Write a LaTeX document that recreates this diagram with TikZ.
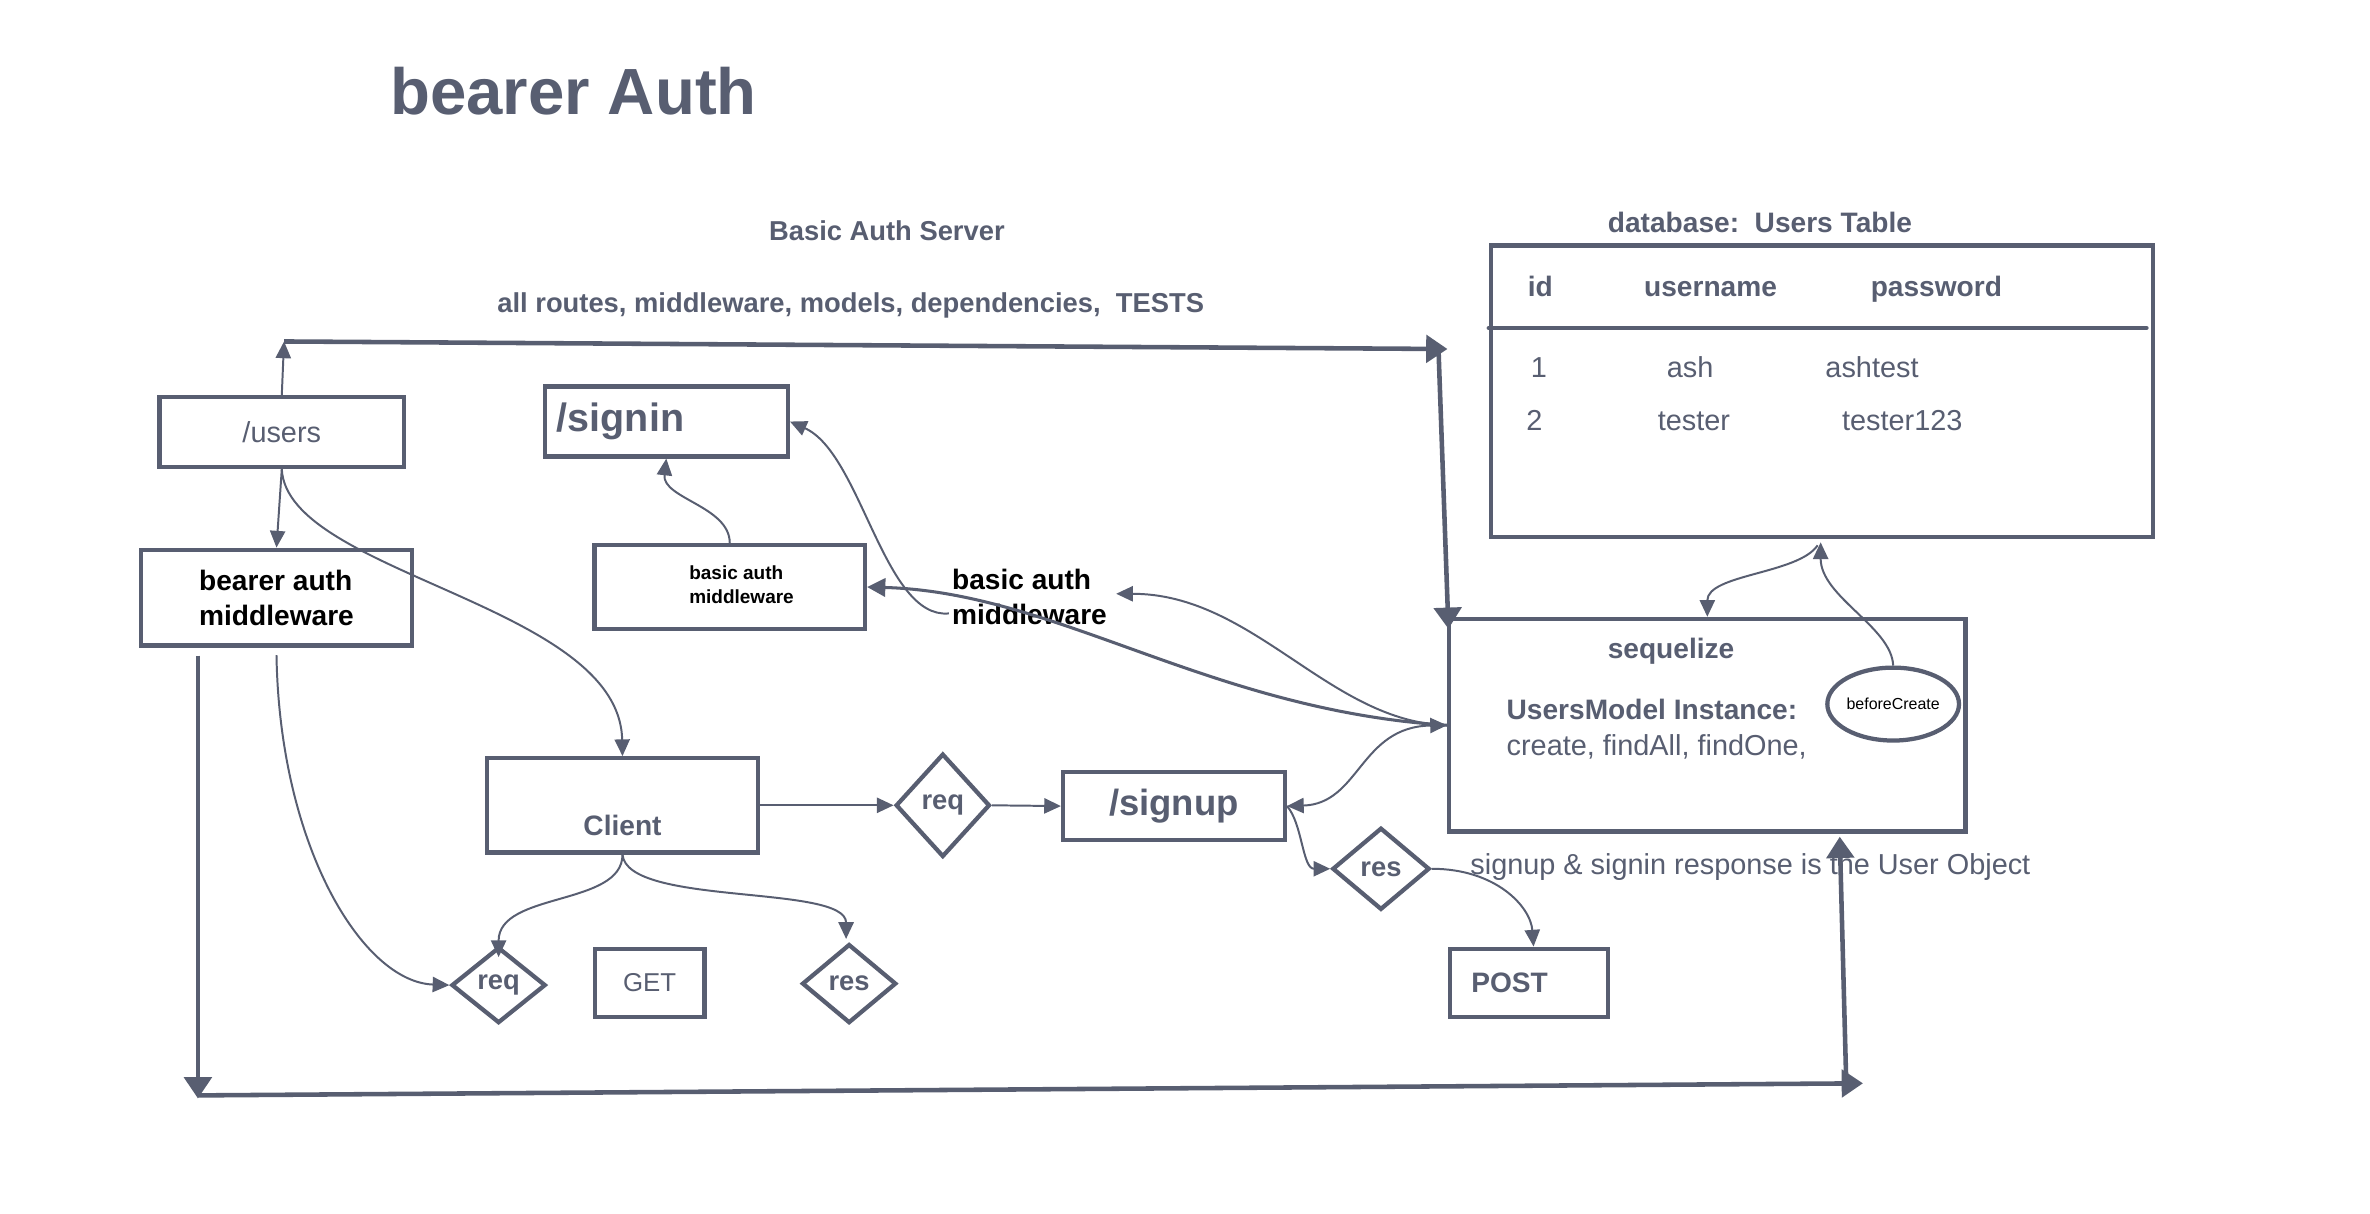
\documentclass[tikz,border=0pt]{standalone}
\usepackage{fontspec}
\setmainfont{Liberation Sans}
\usetikzlibrary{arrows.meta,shapes.geometric,calc}
\definecolor{ink}{RGB}{88,94,113}
\newcommand{\fsz}[2]{\fontsize{#1}{#2}\selectfont}
\begin{document}
\begin{tikzpicture}[x=0.9945pt,y=-0.9945pt,
  box/.style={draw=ink, line width=2.8pt, inner sep=0pt, rectangle},
  dia/.style={draw=ink, line width=2.8pt, diamond, inner sep=0pt, text=ink, font={\fsz{18}{22}\bfseries}},
  thinarrow/.style={draw=ink, line width=1.3pt, -{Triangle[width=10pt,length=11pt]}},
  midarrow/.style={draw=ink, line width=2pt, -{Triangle[width=12pt,length=12pt]}},
  thickarrow/.style={draw=ink, line width=3pt, -{Triangle[width=18pt,length=14pt]}},
  lbl/.style={text=ink, inner sep=0pt, font={\fsz{19}{22}}},
  blbl/.style={text=ink, inner sep=0pt, font={\fsz{18.5}{22}\bfseries}}]
\fill[white] (0,0) rectangle (1568.6,803.4);
\useasboundingbox (0,0) rectangle (1568.6,803.4);

% titles
\node[text=ink, inner sep=0pt, font={\fsz{43}{50}\bfseries}, anchor=base west] (title) at (258,76) {bearer Auth};
\node[blbl, anchor=base, font={\fsz{18}{22}\bfseries}] (server) at (587,159) {Basic Auth Server};
\node[blbl, anchor=base west, font={\fsz{18}{22}\bfseries}] (routes) at (329,207) {all routes, middleware, models, dependencies,\ \ TESTS};

% boxes
\node[box, minimum width=161pt, minimum height=46pt, text=ink, font={\fsz{19}{23}}] (users) at (186.5,286) {/users};
\node[box, minimum width=178pt, minimum height=63pt, align=left, font={\fsz{18.5}{23}\bfseries}, text=black] (bearer) at (183,395.5) {bearer auth\\middleware};
\node[box, minimum width=160pt, minimum height=46pt, text width=144pt, align=left, font={\fsz{26}{30}\bfseries}, text=ink] (signin) at (441,279) {/signin};
\node[box, minimum width=178pt, minimum height=55pt] (mwbox) at (483,388.5) {};
\node[inner sep=0pt, align=left, anchor=west, font={\fsz{12.5}{16}\bfseries}, text=black] (mwtext) at (456,387) {basic auth\\middleware};
\node[inner sep=0pt, align=left, anchor=west, font={\fsz{18.5}{23}\bfseries}, text=black] (mwlabel) at (630,395) {basic auth\\middleware};

\node[box, minimum width=178pt, minimum height=62pt] (client) at (412,533) {};
\node[blbl] (clienttxt) at (412,546) {Client};
\node[dia, minimum width=62pt, minimum height=68pt] (req1) at (624,533) {req};
\node[box, minimum width=146pt, minimum height=45pt, font={\fsz{24}{28}\bfseries}, text=ink] (signup) at (777,533.5) {/signup};
\node[dia, minimum width=64pt, minimum height=54pt] (res1) at (914,575) {res};
\node[box, minimum width=104pt, minimum height=45pt, text width=76pt, align=left, font={\fsz{18.5}{22}\bfseries}, text=ink] (post) at (1012,650.5) {POST};
\node[box, minimum width=72pt, minimum height=45pt, font={\fsz{17}{20}}, text=ink] (get) at (430,650.5) {GET};
\node[dia, minimum width=62pt, minimum height=50pt] (req2) at (330,652) {req};
\node[dia, minimum width=62pt, minimum height=52pt] (res2) at (562,651) {res};
\node[lbl, anchor=base west] (resptext) at (973,579) {signup \& signin response is the User Object};

% sequelize
\node[box, minimum width=340pt, minimum height=140pt] (seq) at (1130,480) {};
\node[blbl] (seqtitle) at (1106,431) {sequelize};
\node[blbl, anchor=base west] (umi) at (997,476) {UsersModel Instance:};
\node[lbl, anchor=base west] (methods) at (997,500) {create, findAll, findOne,};
\node[draw=ink, line width=2.8pt, ellipse, minimum width=74pt, minimum height=48pt, inner sep=0pt, fill=white, font={\fsz{10.5}{12}}, text=black] (bc) at (1253,466) {beforeCreate};

% table
\node[blbl, anchor=base west] (dbtitle) at (1064,154) {database:\ \ Users Table};
\node[box, minimum width=436pt, minimum height=192pt] (tbl) at (1206,259) {};
\draw[ink, line width=3pt, line cap=round] ($(tbl.north west)+(0,56)$) -- ($(tbl.north east)+(-6,56)$);
\node[blbl, anchor=base west] (hid) at (1011,196) {id};
\node[blbl, anchor=base west] (huser) at (1088,196) {username};
\node[blbl, anchor=base west] (hpass) at (1238,196) {password};
\node[lbl, anchor=base west] (r1id) at (1013,250) {1};
\node[lbl, anchor=base west] (r1u) at (1103,250) {ash};
\node[lbl, anchor=base west] (r1p) at (1208,250) {ashtest};
\node[lbl, anchor=base west] (r2id) at (1010,285) {2};
\node[lbl, anchor=base west] (r2u) at (1097,285) {tester};
\node[lbl, anchor=base west] (r2p) at (1219,285) {tester123};

% long thick lines
\coordinate (tl) at (188,226);
\coordinate (tr) at (958,231);
\coordinate (trd) at (952,229);
\coordinate (bl0) at (131,434);
\coordinate (bl) at (131,727);
\coordinate (blr) at (131,725);
\coordinate (br) at (1233,717);
\coordinate (bru) at (1222,719);
\draw[thinarrow] (users.north) -- (tl);
\draw[thickarrow] (tl) -- (tr);
\draw[thickarrow] (trd) -- ($(seq.north west)+(1,8)$);
\draw[thickarrow] (bl0) -- (bl);
\draw[thickarrow] (blr) -- (br);
\draw[thickarrow] (bru) -- ($(seq.south west)+(260,2)$);

% connectors
\draw[thinarrow] (users.south) -- (bearer.north);
\draw[thinarrow] (users.south) .. controls (190,380) and (410,400) .. (client.north);
\draw[thinarrow] ($(bearer.south)+(0,5)$) .. controls (185,560) and (240,650) .. (req2.west);
\draw[thinarrow] (client.south) .. controls (412,600) and (330,590) .. ($(req2.north)+(0,8)$);
\draw[thinarrow] (client.south) .. controls (415,600) and (560,585) .. ($(res2.north)+(-2,-2)$);
\draw[thinarrow] (client.east) -- (req1.west);
\draw[thinarrow] (req1.east) -- (signup.west);
\draw[thinarrow] (mwbox.north) .. controls (483,335) and (438,330) .. (signin.south);
\draw[thinarrow] ($(mwlabel.west)+(-2,11)$) .. controls (585,410) and (570,300) .. (signin.east);
\draw[midarrow] (seq.west) .. controls (800,470) and (700,392) .. (mwbox.east);
\draw[thinarrow] (seq.west) .. controls (880,478) and (830,393) .. ($(mwlabel.east)+(6,-2)$);
\draw[draw=ink, line width=1.3pt, {Triangle[width=10pt,length=11pt]}-{Triangle[width=10pt,length=11pt]}] (signup.east) .. controls (900,532) and (900,481) .. (seq.west);
\draw[thinarrow] (signup.east) .. controls (862,545) and (862,575) .. (res1.west);
\draw[thinarrow] (res1.east) .. controls (990,575) and (1013,600) .. ($(post.north)+(3,0)$);
\draw[thinarrow] (bc.north) .. controls (1252,415) and (1205,395) .. ($(tbl.south)+(-1,2)$);
\draw[thinarrow] ($(tbl.south)+(-3,4)$) .. controls (1190,380) and (1130,380) .. (seq.north);
\end{tikzpicture}
\end{document}
